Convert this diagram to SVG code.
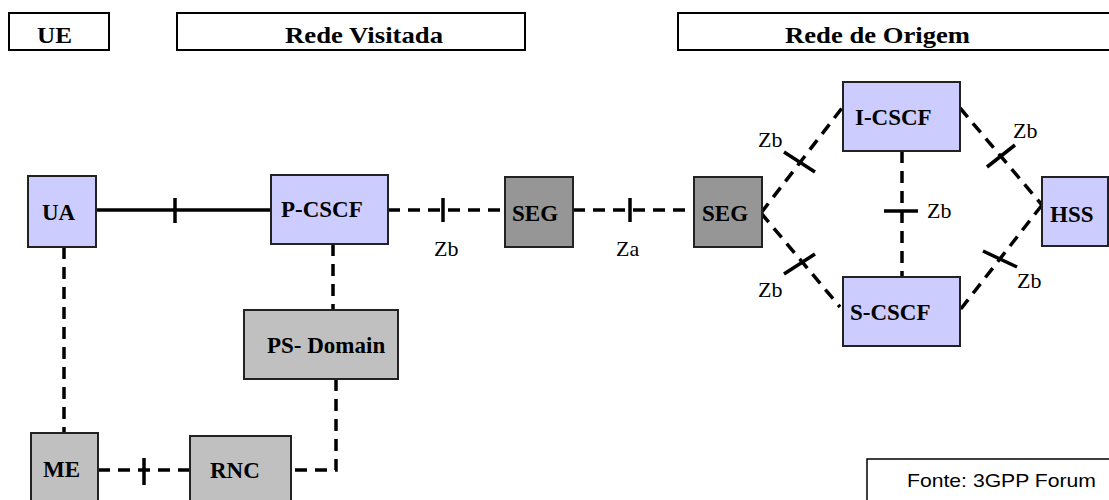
<svg xmlns="http://www.w3.org/2000/svg" width="1109" height="500" viewBox="0 0 1109 500">
<style>
.hdr{fill:#fff;stroke:#000;stroke-width:2}
.ht{font-family:"Liberation Serif","Times New Roman",serif;font-weight:bold;font-size:23px}
.blue{fill:#ccccff;stroke:#222;stroke-width:2}
.dgray{fill:#969696;stroke:#222;stroke-width:2}
.lgray{fill:#c0c0c0;stroke:#222;stroke-width:2}
.nt{font-family:"Liberation Serif","Times New Roman",serif;font-weight:bold;font-size:23px}
.lbl{font-family:"Liberation Serif","Times New Roman",serif;font-size:22px}
.solid{stroke:#000;stroke-width:3.5;fill:none}
.dash{stroke:#000;stroke-width:3.5;fill:none;stroke-dasharray:12 8}
.tick{stroke:#000;stroke-width:3.5}
</style>
<rect width="1109" height="500" fill="#fff"/>
<g id="hdr-ue"><rect class="hdr" x="9" y="13" width="100" height="37"/><text class="ht" x="37" y="43" textLength="35" lengthAdjust="spacingAndGlyphs">UE</text></g>
<g id="hdr-visitada"><rect class="hdr" x="177" y="13" width="348" height="37"/><text class="ht" x="285" y="43" textLength="158" lengthAdjust="spacingAndGlyphs">Rede Visitada</text></g>
<g id="hdr-origem"><rect class="hdr" x="678" y="13" width="440" height="37"/><text class="ht" x="785" y="43" textLength="185" lengthAdjust="spacingAndGlyphs">Rede de Origem</text></g>

<g id="connectors">
<path class="solid" d="M96 210H271"/>
<line class="tick" x1="175" y1="198" x2="175" y2="223"/>
<path class="dash" d="M388 210H505"/>
<line class="tick" x1="443" y1="198" x2="443" y2="222"/>
<path class="dash" d="M573 210H694"/>
<line class="tick" x1="630" y1="198" x2="630" y2="222"/>
<path class="dash" d="M761 213L842 108"/>
<line class="tick" x1="784" y1="152" x2="815" y2="172"/>
<path class="dash" d="M761 213L840 307"/>
<line class="tick" x1="784" y1="274" x2="815" y2="254"/>
<path class="dash" d="M960 108L1042 205"/>
<line class="tick" x1="987" y1="167" x2="1015" y2="145"/>
<path class="dash" d="M1042 205L960 310"/>
<line class="tick" x1="983" y1="251" x2="1017" y2="267"/>
<path class="dash" d="M902 151V277"/>
<line class="tick" x1="884" y1="211" x2="918" y2="211"/>
<path class="dash" d="M333 244V310"/>
<path class="dash" d="M336 379V470H291"/>
<path class="dash" d="M64 247V433"/>
<path class="dash" d="M98 470H190"/>
<line class="tick" x1="144" y1="458" x2="144" y2="485"/>
<text class="lbl" x="434" y="256">Zb</text>
<text class="lbl" x="616" y="256">Za</text>
<text class="lbl" x="758" y="147">Zb</text>
<text class="lbl" x="758" y="297">Zb</text>
<text class="lbl" x="1013" y="138">Zb</text>
<text class="lbl" x="1017" y="288">Zb</text>
<text class="lbl" x="927" y="218">Zb</text>
</g>

<g id="ua"><rect class="blue" x="28" y="176" width="68" height="71"/><text class="nt" x="42" y="220">UA</text></g>
<g id="pcscf"><rect class="blue" x="271" y="175" width="117" height="69"/><text class="nt" x="281" y="217">P-CSCF</text></g>
<g id="seg1"><rect class="dgray" x="505" y="177" width="68" height="70"/><text class="nt" x="512" y="221">SEG</text></g>
<g id="seg2"><rect class="dgray" x="694" y="177" width="68" height="70"/><text class="nt" x="702" y="221">SEG</text></g>
<g id="icscf"><rect class="blue" x="843" y="82" width="117" height="69"/><text class="nt" x="855" y="125">I-CSCF</text></g>
<g id="hss"><rect class="blue" x="1042" y="177" width="66" height="69"/><text class="nt" x="1050" y="222">HSS</text></g>
<g id="scscf"><rect class="blue" x="843" y="277" width="117" height="69"/><text class="nt" x="850" y="320">S-CSCF</text></g>
<g id="psdomain"><rect class="lgray" x="244" y="310" width="154" height="69"/><text class="nt" x="267" y="353">PS- Domain</text></g>
<g id="me"><rect class="lgray" x="31" y="433" width="67" height="80"/><text class="nt" x="43" y="477">ME</text></g>
<g id="rnc"><rect class="lgray" x="190" y="436" width="101" height="80"/><text class="nt" x="210" y="478">RNC</text></g>
<g id="fonte"><rect fill="#fff" stroke="#000" stroke-width="1.5" x="867" y="459" width="250" height="50"/><text x="907" y="487" font-family="Liberation Sans, Arial, sans-serif" font-size="19" textLength="189" lengthAdjust="spacingAndGlyphs">Fonte: 3GPP Forum</text></g>
</svg>
